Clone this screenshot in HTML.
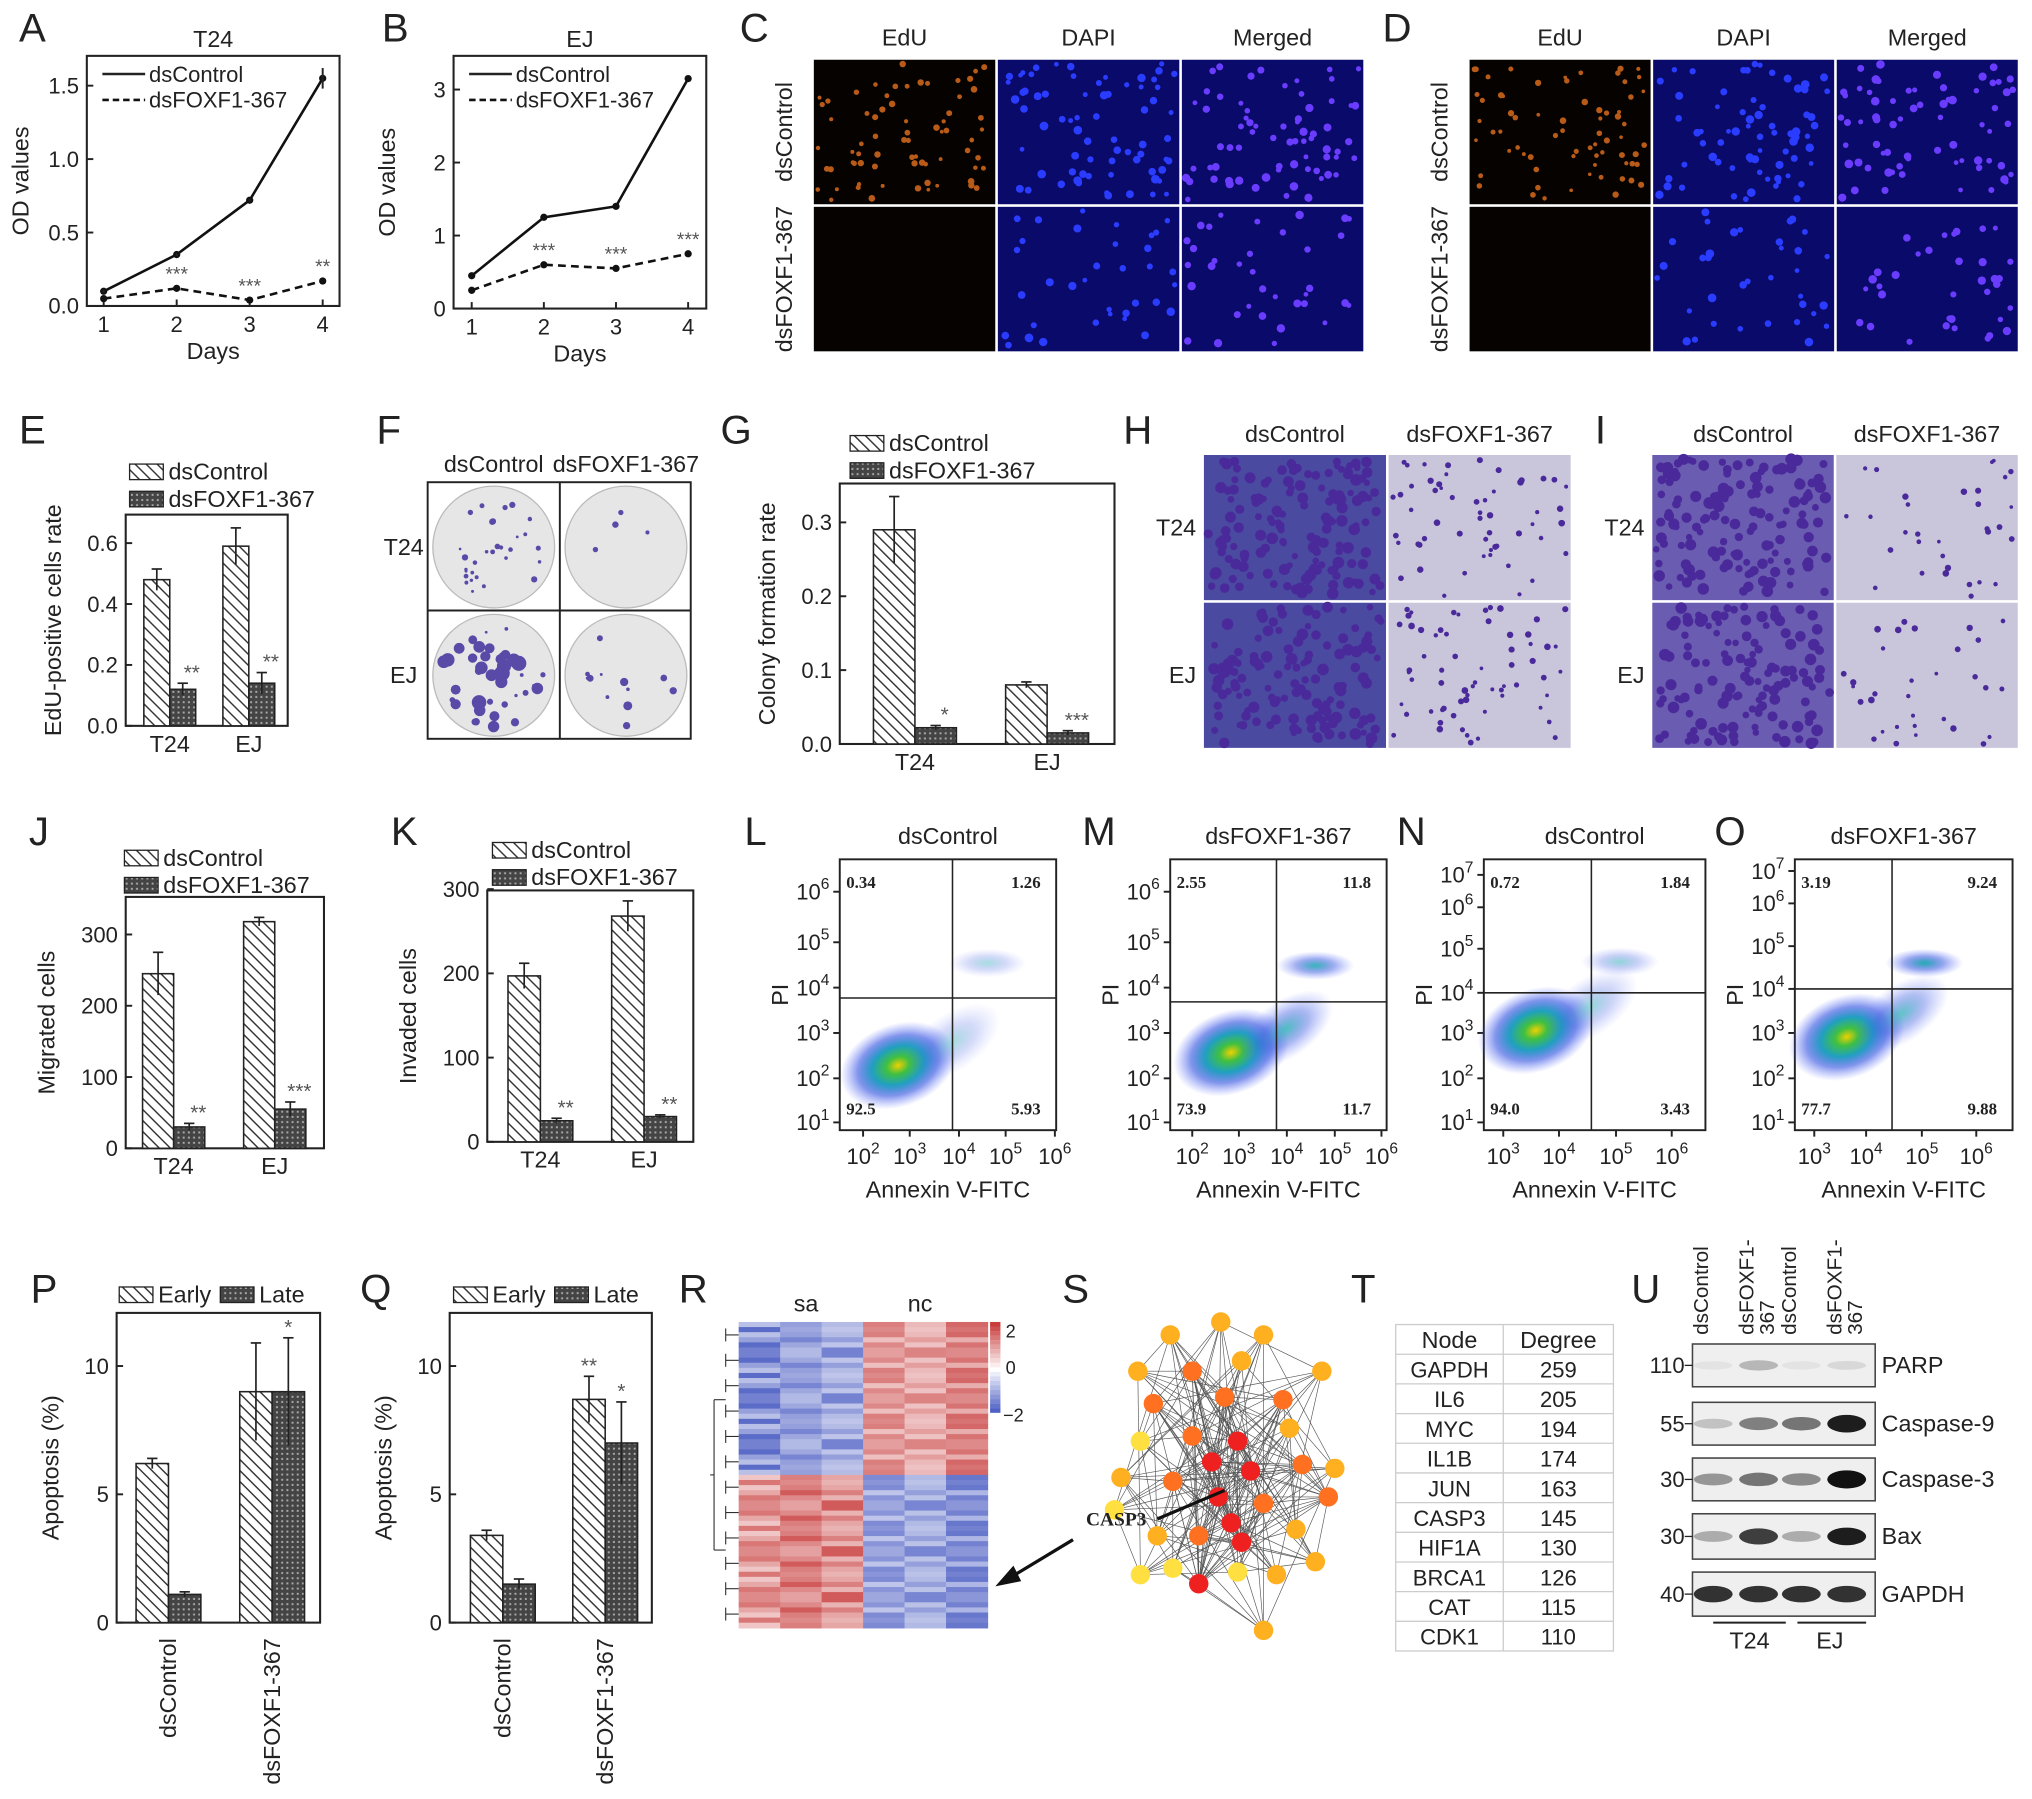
<!DOCTYPE html>
<html><head><meta charset="utf-8">
<style>
html,body{margin:0;padding:0;background:#fff;}
svg{display:block;font-family:"Liberation Sans",sans-serif;}
</style></head>
<body>
<svg id="fig" width="2032" height="1799" viewBox="0 0 1568 1388" xmlns="http://www.w3.org/2000/svg">
<defs>
<pattern id="hatch" patternUnits="userSpaceOnUse" width="6" height="6" patternTransform="rotate(-45)"><rect width="6" height="6" fill="#fff"/><line x1="0" y1="0" x2="0" y2="6" stroke="#333" stroke-width="2.2"/></pattern>
<pattern id="grid" patternUnits="userSpaceOnUse" width="4" height="4"><rect width="4" height="4" fill="#444"/><rect x="1" y="1" width="1.5" height="1.5" fill="#aaa"/></pattern>
<radialGradient id="dens"><stop offset="0" stop-color="#f0d000"/><stop offset="0.2" stop-color="#40c040"/><stop offset="0.45" stop-color="#20a0c0"/><stop offset="0.7" stop-color="#3050e0" stop-opacity="0.6"/><stop offset="1" stop-color="#6070ff" stop-opacity="0"/></radialGradient>
<radialGradient id="dens2"><stop offset="0" stop-color="#20b0b0"/><stop offset="0.5" stop-color="#3050e0" stop-opacity="0.5"/><stop offset="1" stop-color="#6070ff" stop-opacity="0"/></radialGradient>
</defs>
</svg>
<script>
// ---------- data ----------
const days=[1,2,3,4];
const aCtrl=[0.1,0.35,0.72,1.55], aFox=[0.05,0.12,0.04,0.17], aErr=[0.01,0.01,0.01,0.07];
const aStars=['','***','***','**'];
const bCtrl=[0.45,1.25,1.4,3.15], bFox=[0.25,0.6,0.55,0.75];
const bStars=['','***','***','***'];
const eVals=[[0.48,0.12],[0.59,0.14]], eErr=[[0.035,0.02],[0.06,0.035]], eStars=['**','**'];
const gVals=[[0.29,0.022],[0.08,0.015]], gErr=[[0.045,0.003],[0.004,0.003]], gStars=['*','***'];
const jVals=[[245,30],[318,55]], jErr=[[30,5],[6,10]], jStars=['**','***'];
const kVals=[[197,25],[268,30]], kErr=[[15,3],[18,2]], kStars=['**','**'];
const pVals=[[6.2,1.1],[9.0,9.0]], pErr=[[0.2,0.1],[1.9,2.1]], pStars=[['',''],['','*']];
const qVals=[[3.4,1.5],[8.7,7.0]], qErr=[[0.2,0.2],[0.9,1.6]], qStars=[['',''],['**','*']];
const tableNodes=['GAPDH','IL6','MYC','IL1B','JUN','CASP3','HIF1A','BRCA1','CAT','CDK1'];
const tableDeg=[259,205,194,174,163,145,130,126,115,110];
const blotNames=['PARP','Caspase-9','Caspase-3','Bax','GAPDH'];
const blotMW=['110','55','30','30','40'];
const blotInt=[[0.05,0.25,0.05,0.1],[0.2,0.5,0.55,0.95],[0.4,0.55,0.45,1.0],[0.3,0.8,0.3,0.95],[0.85,0.85,0.85,0.85]];
const heatTop=[-1.2,-1.0,-1.1,1.1,0.9,1.2], heatBot=[1.0,1.2,1.3,-1.1,-1.0,-1.2];
// ---------- helpers ----------
const svg=document.getElementById('fig');
const NS='http://www.w3.org/2000/svg';
function el(tag,attrs,name,parent){
  const e=document.createElementNS(NS,tag);
  for(const k in attrs) e.setAttribute(k,attrs[k]);
  
  
  (parent||svg).appendChild(e);return e;
}
function tx(x,y,s,size,name,opt){
  opt=opt||{};
  const a={x:x,y:y,'font-size':size,fill:opt.fill||'#222','text-anchor':opt.anchor||'middle'};
  if(opt.rot) a.transform='rotate('+opt.rot+' '+x+' '+y+')';
  if(opt.family) a['font-family']=opt.family;
  if(opt.weight) a['font-weight']=opt.weight;
  const t=el('text',a,name);t.textContent=s;return t;
}
function ln(x1,y1,x2,y2,name,w,c,dash){const a={x1:x1,y1:y1,x2:x2,y2:y2,stroke:c||'#222','stroke-width':w||1.5};if(dash)a['stroke-dasharray']=dash;return el('line',a,name);}
function rc(x,y,w,h,name,fill,stroke,sw){return el('rect',{x:x,y:y,width:w,height:h,fill:fill||'none',stroke:stroke||'none','stroke-width':sw||1.5},name);}
let seed=7;function rnd(){seed=(seed*16807)%2147483647;return seed/2147483647;}
[['A',25,32],['B',305,32],['C',582,32],['D',1078,32],['E',25,342],['F',300,342],['G',568,342],['H',878,342],['I',1235,342],['J',30,652],['K',312,652],['L',583,652],['M',848,652],['N',1089,652],['O',1335,652],['P',34,1005],['Q',290,1005],['R',535,1005],['S',830,1005],['T',1052,1005],['U',1270,1005]].forEach(p=>tx(p[1],p[2],p[0],31,'panel-label-'+p[0].toLowerCase()));
// ---------- line charts ----------
function lineChart(o){
  const sx=d=>o.x0+o.pad+(d-1)*(o.x1-o.x0-2*o.pad)/3;
  const sy=v=>o.y1-(v/o.ymax)*(o.y1-o.ytop);
  rc(o.x0,o.y0,o.x1-o.x0,o.y1-o.y0,o.id+'-axes-box',null,'#222',1.6);
  tx((o.x0+o.x1)/2,o.y0-7,o.title,18,o.id+'-title');
  o.ticks.forEach(t=>{ln(o.x0,sy(t),o.x0+5,sy(t),o.id+'-y-tick');tx(o.x0-6,sy(t)+6,o.tickFmt(t),17,o.id+'-y-tick-label',{anchor:'end'});});
  days.forEach(d=>{ln(sx(d),o.y1,sx(d),o.y1-5,o.id+'-x-tick');tx(sx(d),o.y1+20,String(d),17,o.id+'-x-tick-label');});
  tx((o.x0+o.x1)/2,o.y1+41,'Days',18,o.id+'-x-axis-title');
  tx(o.x0-45,(o.y0+o.y1)/2,'OD values',18,o.id+'-y-axis-title',{rot:-90});
  const p1=days.map((d,i)=>sx(d)+','+sy(o.c[i])).join(' ');
  const p2=days.map((d,i)=>sx(d)+','+sy(o.f[i])).join(' ');
  el('polyline',{points:p1,fill:'none',stroke:'#111','stroke-width':2},o.id+'-line-dscontrol');
  el('polyline',{points:p2,fill:'none',stroke:'#111','stroke-width':2,'stroke-dasharray':'6,4'},o.id+'-line-dsfoxf1');
  days.forEach((d,i)=>{
    el('circle',{cx:sx(d),cy:sy(o.c[i]),r:2.8,fill:'#111'},o.id+'-point-dscontrol');
    el('circle',{cx:sx(d),cy:sy(o.f[i]),r:2.8,fill:'#111'},o.id+'-point-dsfoxf1');
    if(o.err){ln(sx(d),sy(o.c[i]-o.err[i]),sx(d),sy(o.c[i]+o.err[i]),o.id+'-error-bar');}
    if(o.stars[i]) tx(sx(d),sy(o.f[i])-6,o.stars[i],15,o.id+'-significance',{fill:'#555'});
  });
  ln(o.x0+12,o.y0+14,o.x0+45,o.y0+14,o.id+'-legend-line-dscontrol',2);
  ln(o.x0+12,o.y0+34,o.x0+45,o.y0+34,o.id+'-legend-line-dsfoxf1',2,'#111','5,3');
  tx(o.x0+48,o.y0+20,'dsControl',17,o.id+'-legend-dscontrol',{anchor:'start'});
  tx(o.x0+48,o.y0+40,'dsFOXF1-367',17,o.id+'-legend-dsfoxf1',{anchor:'start'});
}
lineChart({id:'a',x0:67,x1:262,y0:43,y1:236,ytop:66,ymax:1.5,pad:13,ticks:[0,0.5,1.0,1.5],tickFmt:t=>t.toFixed(1),title:'T24',c:aCtrl,f:aFox,err:aErr,stars:aStars});
lineChart({id:'b',x0:350,x1:545,y0:43,y1:238,ytop:69,ymax:3,pad:14,ticks:[0,1,2,3],tickFmt:t=>String(t),title:'EJ',c:bCtrl,f:bFox,err:null,stars:bStars});
// ---------- microscopy images ----------
function cells(x,y,w,h,n,color,r,name){
  const g=el('g',{},name);
  for(let i=0;i<n;i++){el('circle',{cx:x+3+rnd()*(w-6),cy:y+3+rnd()*(h-6),r:r*(0.7+rnd()*0.6),fill:color},name+'-cell',g);}
}
function edu(o){
  const cols=[o.x0,o.x0+(o.x1-o.x0)/3,o.x0+2*(o.x1-o.x0)/3,o.x1];
  const ym=(o.y0+o.y1)/2;
  ['EdU','DAPI','Merged'].forEach((s,i)=>tx((cols[i]+cols[i+1])/2,o.y0-10,s,18,o.id+'-header-'+s.toLowerCase()));
  tx(o.x0-16,(o.y0+ym)/2,'dsControl',18,o.id+'-row-label-dscontrol',{rot:-90});
  tx(o.x0-16,(ym+o.y1)/2,'dsFOXF1-367',18,o.id+'-row-label-dsfoxf1',{rot:-90});
  for(let r=0;r<2;r++)for(let c=0;c<3;c++){
    const x=cols[c]+1,y=(r?ym:o.y0)+1,w=cols[c+1]-cols[c]-2,h=(r?o.y1-ym:ym-o.y0)-2;
    rc(x,y,w,h,o.id+'-image',c==0?'#050200':'#0a0a6a');
    const n=r==0?70:35;
    if(c==0){if(r==0)cells(x,y,w,h,n,'#b85a18',2,o.id+'-edu-cells');}
    else cells(x,y,w,h,n,c==1?'#2a3cff':'#6a3cff',2.6,o.id+'-nuclei');
  }
}
edu({id:'c',x0:627,x1:1053,y0:45,y1:272});
edu({id:'d',x0:1133,x1:1558,y0:45,y1:272});
function transwell(o){
  const xm=(o.x0+o.x1)/2,ym=(o.y0+o.y1)/2;
  tx((o.x0+xm)/2,o.y0-9,'dsControl',18,o.id+'-header-dscontrol');
  tx((xm+o.x1)/2,o.y0-9,'dsFOXF1-367',18,o.id+'-header-dsfoxf1');
  tx(o.x0-5,(o.y0+ym)/2+6,'T24',18,o.id+'-row-label-t24',{anchor:'end'});
  tx(o.x0-5,(ym+o.y1)/2+6,'EJ',18,o.id+'-row-label-ej',{anchor:'end'});
  const dens=o.d;
  for(let r=0;r<2;r++)for(let c=0;c<2;c++){
    const x=(c?xm:o.x0)+1,y=(r?ym:o.y0)+1,w=(o.x1-o.x0)/2-2,h=(o.y1-o.y0)/2-2;
    const dd=dens[r*2+c];
    rc(x,y,w,h,o.id+'-image',dd>0.5?o.dark:'#c9c6dc');
    cells(x,y,w,h,Math.round(dd*160),'#4a2a9a',dd>0.5?3.5:2,o.id+'-stained-cells');
  }
}
transwell({id:'h',x0:928,x1:1213,y0:350,y1:578,d:[0.9,0.35,0.8,0.4],dark:'#4a4aa0'});
transwell({id:'i',x0:1274,x1:1558,y0:350,y1:578,d:[0.85,0.2,0.8,0.2],dark:'#6a5cb0'});
(function(){
  rc(330,372,203,198,'f-frame',null,'#222',1.5);ln(432,372,432,570,'f-divider');ln(330,471,533,471,'f-divider');
  tx(381,364,'dsControl',18,'f-header-dscontrol');tx(483,364,'dsFOXF1-367',18,'f-header-dsfoxf1');
  tx(327,428,'T24',18,'f-row-label-t24',{anchor:'end'});tx(322,527,'EJ',18,'f-row-label-ej',{anchor:'end'});
  [[381,422,30,1.5],[483,422,4,1.5],[381,521,40,5],[483,521,12,3]].forEach(p=>{
    el('circle',{cx:p[0],cy:p[1],r:47,fill:'#e6e6e6',stroke:'#bbb'},'f-plate');
    for(let i=0;i<p[2];i++){const a=rnd()*6.28,rr=Math.sqrt(rnd())*40;el('circle',{cx:p[0]+rr*Math.cos(a),cy:p[1]+rr*Math.sin(a),r:1+rnd()*p[3],fill:'#5a4aa8'},'f-colony');}
  });
})();
// ---------- bar charts ----------
function barChart(o){
  const sy=v=>o.y1-(v/o.ymax)*(o.y1-o.ytop);
  rc(o.x0,o.y0,o.x1-o.x0,o.y1-o.y0,o.id+'-axes-box',null,'#222',1.6);
  o.ticks.forEach(t=>{ln(o.x0,sy(t),o.x0+5,sy(t),o.id+'-y-tick');tx(o.x0-6,sy(t)+6,o.fmt(t),17,o.id+'-y-tick-label',{anchor:'end'});});
  tx(o.x0-o.ylOff,(o.y0+o.y1)/2,o.ylabel,18,o.id+'-y-axis-title',{rot:-90});
  o.vals.forEach((grp,gi)=>{
    const gc=o.gx[gi];
    grp.forEach((v,bi)=>{
      const cx=gc+(bi-0.5)*o.bw;
      rc(cx-o.bw/2,sy(v),o.bw,o.y1-sy(v),o.id+'-bar-'+o.cats[gi].toLowerCase()+'-'+(bi?'dsfoxf1':'dscontrol'),bi?'url(#grid)':'url(#hatch)','#222',1.2);
      const e=o.err[gi][bi];ln(cx,sy(v-e),cx,sy(v+e),o.id+'-error-bar',1.3);ln(cx-4,sy(v+e),cx+4,sy(v+e),o.id+'-error-cap',1.3);
      const st=o.stars2?o.stars2[gi][bi]:(bi?o.stars[gi]:'');
      if(st) tx(cx+(o.stars2?0:7),sy(v+e)-3,st,16,o.id+'-significance',{fill:'#555'});
    });
    if(o.rotCats) tx(gc+6,o.y1+12,o.cats[gi],18,o.id+'-x-tick-label',{rot:-90,anchor:'end'});
    else tx(gc,o.y1+20,o.cats[gi],18,o.id+'-x-tick-label');
  });
  const L=o.leg;
  rc(L[0],L[1]-12,26,12,o.id+'-legend-swatch-dscontrol','url(#hatch)','#222',1);
  tx(L[0]+30,L[1],o.l1,18,o.id+'-legend-dscontrol',{anchor:'start'});
  if(o.inline){rc(L[0]+78,L[1]-12,26,12,o.id+'-legend-swatch-late','url(#grid)','#222',1);tx(L[0]+108,L[1],o.l2,18,o.id+'-legend-late',{anchor:'start'});}
  else{rc(L[0],L[1]+9,26,12,o.id+'-legend-swatch-dsfoxf1','url(#grid)','#222',1);tx(L[0]+30,L[1]+21,o.l2,18,o.id+'-legend-dsfoxf1',{anchor:'start'});}
}
const cats2=['T24','EJ'];
barChart({id:'e',x0:97,x1:222,y0:397,y1:560,ytop:419,ymax:0.6,ticks:[0,0.2,0.4,0.6],fmt:t=>t.toFixed(1),ylabel:'EdU-positive cells rate',ylOff:50,vals:eVals,err:eErr,stars:eStars,gx:[131,192],bw:20,cats:cats2,leg:[100,370],l1:'dsControl',l2:'dsFOXF1-367'});
barChart({id:'g',x0:648,x1:860,y0:373,y1:574,ytop:403,ymax:0.3,ticks:[0,0.1,0.2,0.3],fmt:t=>t.toFixed(1),ylabel:'Colony formation rate',ylOff:50,vals:gVals,err:gErr,stars:gStars,gx:[706,808],bw:32,cats:cats2,leg:[656,348],l1:'dsControl',l2:'dsFOXF1-367'});
barChart({id:'j',x0:97,x1:250,y0:692,y1:886,ytop:721,ymax:300,ticks:[0,100,200,300],fmt:t=>String(t),ylabel:'Migrated cells',ylOff:55,vals:jVals,err:jErr,stars:jStars,gx:[134,212],bw:24,cats:cats2,leg:[96,668],l1:'dsControl',l2:'dsFOXF1-367'});
barChart({id:'k',x0:376,x1:535,y0:687,y1:881,ytop:686,ymax:300,ticks:[0,100,200,300],fmt:t=>String(t),ylabel:'Invaded cells',ylOff:55,vals:kVals,err:kErr,stars:kStars,gx:[417,497],bw:25,cats:cats2,leg:[380,662],l1:'dsControl',l2:'dsFOXF1-367'});
const catsP=['dsControl','dsFOXF1-367'];
barChart({id:'p',x0:90,x1:247,y0:1013,y1:1252,ytop:1054,ymax:10,ticks:[0,5,10],fmt:t=>String(t),ylabel:'Apoptosis (%)',ylOff:45,vals:pVals,err:pErr,stars2:pStars,gx:[130,210],bw:25,cats:catsP,rotCats:true,inline:true,leg:[92,1005],l1:'Early',l2:'Late'});
barChart({id:'q',x0:347,x1:503,y0:1013,y1:1252,ytop:1054,ymax:10,ticks:[0,5,10],fmt:t=>String(t),ylabel:'Apoptosis (%)',ylOff:45,vals:qVals,err:qErr,stars2:qStars,gx:[388,467],bw:25,cats:catsP,rotCats:true,inline:true,leg:[350,1005],l1:'Early',l2:'Late'});
// ---------- flow cytometry ----------
function flow(o){
  rc(o.x0,o.y0,o.x1-o.x0,o.y1-o.y0,o.id+'-axes-box',null,'#222',1.5);
  tx((o.x0+o.x1)/2,o.y0-12,o.title,18,o.id+'-title');
  o.yt.forEach((y,i)=>{ln(o.x0-5,y,o.x0,y,o.id+'-y-tick');const t=tx(o.x0-8,y+6,'10',17,o.id+'-y-tick-label',{anchor:'end'});const s=document.createElementNS(NS,'tspan');s.setAttribute('dy','-8');s.setAttribute('font-size','12');s.textContent=String(o.y0e+i);t.appendChild(s);});
  o.xt.forEach((x,i)=>{ln(x,o.y1,x,o.y1+5,o.id+'-x-tick');const t=tx(x,o.y1+26,'10',17,o.id+'-x-tick-label');const s=document.createElementNS(NS,'tspan');s.setAttribute('dy','-8');s.setAttribute('font-size','12');s.textContent=String(o.x0e+i);t.appendChild(s);});
  tx((o.x0+o.x1)/2,o.y1+52,'Annexin V-FITC',18,o.id+'-x-axis-title');
  tx(o.x0-40,(o.y0+o.y1)/2,'PI',18,o.id+'-y-axis-title',{rot:-90});
  el('ellipse',{cx:o.cx,cy:o.cy,rx:46,ry:32,fill:'url(#dens)',transform:'rotate(-20 '+o.cx+' '+o.cy+')'},o.id+'-density-main');
  el('ellipse',{cx:o.cx+42,cy:o.cy-18,rx:42,ry:22,fill:'url(#dens2)',opacity:o.spread*0.8,transform:'rotate(-35 '+(o.cx+42)+' '+(o.cy-18)+')'},o.id+'-density-tail');
  el('ellipse',{cx:o.lx,cy:o.ly,rx:30,ry:11,fill:'url(#dens2)',opacity:o.late},o.id+'-density-late');
  ln(o.qx,o.y0,o.qx,o.y1,o.id+'-quadrant-v',1.2);ln(o.x0,o.qy,o.x1,o.qy,o.id+'-quadrant-h',1.2);
  const f='"Liberation Serif",serif';
  tx(o.x0+5,o.y0+22,o.q[0],13,o.id+'-q-ul',{anchor:'start',family:f,weight:'bold'});
  tx(o.x1-12,o.y0+22,o.q[1],13,o.id+'-q-ur',{anchor:'end',family:f,weight:'bold'});
  tx(o.x0+5,o.y1-12,o.q[2],13,o.id+'-q-ll',{anchor:'start',family:f,weight:'bold'});
  tx(o.x1-12,o.y1-12,o.q[3],13,o.id+'-q-lr',{anchor:'end',family:f,weight:'bold'});
}
flow({id:'l',title:'dsControl',x0:648,x1:815,y0:663,y1:872,yt:[866,832,797,762,727,688],y0e:1,xt:[666,702,740,776,814],x0e:2,qx:735,qy:770,cx:693,cy:822,spread:0.5,lx:762,ly:743,late:0.4,q:['0.34','1.26','92.5','5.93']});
flow({id:'m',title:'dsFOXF1-367',x0:903,x1:1070,y0:663,y1:872,yt:[866,832,797,762,727,688],y0e:1,xt:[920,956,993,1030,1066],x0e:2,qx:985,qy:773,cx:950,cy:812,spread:1,lx:1015,ly:745,late:0.9,q:['2.55','11.8','73.9','11.7']});
flow({id:'n',title:'dsControl',x0:1145,x1:1316,y0:663,y1:872,yt:[866,832,797,766,732,700,675],y0e:1,xt:[1160,1203,1247,1290],x0e:3,qx:1228,qy:766,cx:1185,cy:795,spread:0.6,lx:1250,ly:742,late:0.5,q:['0.72','1.84','94.0','3.43']});
flow({id:'o',title:'dsFOXF1-367',x0:1385,x1:1553,y0:663,y1:872,yt:[866,832,797,763,730,697,672],y0e:1,xt:[1400,1440,1483,1525],x0e:3,qx:1460,qy:763,cx:1425,cy:800,spread:0.9,lx:1485,ly:743,late:1,q:['3.19','9.24','77.7','9.88']});
// ---------- heatmap R ----------
(function(){
  const x0=570,x1=762,y0=1020,ym=1138,cw=(x1-x0)/6,nr=30,rh=(ym-y0)/nr;
  function col(v){const t=Math.max(-1,Math.min(1,v/2));if(t>=0){const k=t;return 'rgb('+Math.round(255-(255-200)*k)+','+Math.round(255-(255-60)*k)+','+Math.round(255-(255-60)*k)+')';}const k=-t;return 'rgb('+Math.round(255-(255-60)*k)+','+Math.round(255-(255-80)*k)+','+Math.round(255-(255-190)*k)+')';}
  tx(622,1012,'sa',18,'r-label-sa');tx(710,1012,'nc',18,'r-label-nc');
  [[heatTop,y0],[heatBot,ym]].forEach(p=>{
    for(let r=0;r<nr;r++)for(let c=0;c<6;c++){
      const v=p[0][c]*(0.6+0.8*((r*7+c*5+r*r)%9)/8);
      rc(x0+c*cw,p[1]+r*rh,cw+0.5,rh+0.5,'r-heatmap-cell',col(v));
    }
  });
  for(let i=0;i<12;i++){const y=y0+i*((1255-y0)/12)+10;ln(560,y,570,y,'r-dendrogram',0.8);ln(560,y-5,560,y+5,'r-dendrogram',0.8);}
  ln(551,1080,560,1080,'r-dendrogram',0.8);ln(551,1196,560,1196,'r-dendrogram',0.8);ln(551,1080,551,1196,'r-dendrogram',0.8);ln(548,1138,551,1138,'r-dendrogram',0.8);
  for(let i=0;i<20;i++) rc(764,1020+i*3.5,8,3.6,'r-colorbar-step',col(2-i*0.2));
  tx(776,1032,'2',14,'r-colorbar-label',{anchor:'start'});tx(776,1060,'0',14,'r-colorbar-label',{anchor:'start'});tx(774,1097,'−2',14,'r-colorbar-label',{anchor:'start'});
  ln(828,1188,775,1220,'r-arrow',2.5,'#111');el('polygon',{points:'768,1224 782,1208 788,1220',fill:'#111'},'r-arrow-head');
})();
// ---------- network S ----------
const netNodes=[[942,1020,1],[903,1030,1],[975,1030,1],[878,1058,1],[1020,1058,1],[920,1058,2],[958,1050,1],[945,1078,2],[890,1083,2],[990,1080,2],[865,1140,1],[860,1165,0],[880,1112,0],[995,1102,1],[1030,1133,1],[1025,1155,2],[920,1108,2],[955,1112,3],[935,1128,3],[965,1135,3],[940,1155,3],[975,1160,2],[905,1143,2],[1000,1180,1],[893,1185,1],[880,1215,0],[925,1222,3],[955,1213,0],[985,1215,1],[1015,1205,1],[975,1258,1],[925,1185,2],[958,1190,3],[1005,1130,2],[905,1210,0],[950,1175,3]];
(function(){
  const cols=['#ffe040','#ffb020','#ff7020','#ee2020'];
  for(let i=0;i<netNodes.length;i++)for(let j=i+1;j<netNodes.length;j++){
    if((i*7+j*3)%4===0||netNodes[i][2]+netNodes[j][2]>=5){const a=netNodes[i],b=netNodes[j];ln(a[0],a[1],b[0],b[1],'s-edge',0.5,'#555');}
  }
  netNodes.forEach(n=>el('circle',{cx:n[0],cy:n[1],r:7.5,fill:cols[n[2]]},'s-node'));
  tx(838,1177,'CASP3',15,'s-label-casp3',{anchor:'start',family:'"Liberation Serif",serif',weight:'bold'});
  ln(893,1172,945,1150,'s-arrow',2.5,'#111');
})();
// ---------- table T ----------
(function(){
  const x0=1077,x1=1245,xm=1160,y0=1022,rh=22.9;
  rc(x0,y0,x1-x0,rh*11,'t-table-border',null,'#ccc',1);
  ln(xm,y0,xm,y0+rh*11,'t-col-divider',1,'#ccc');
  tx((x0+xm)/2,y0+18,'Node',18,'t-header-node');tx((xm+x1)/2,y0+18,'Degree',18,'t-header-degree');
  tableNodes.forEach((n,i)=>{const y=y0+rh*(i+1);ln(x0,y,x1,y,'t-row-divider',1,'#ccc');tx((x0+xm)/2,y+18,n,17,'t-node-'+n.toLowerCase());tx((xm+x1)/2,y+18,String(tableDeg[i]),17,'t-degree-'+n.toLowerCase());});
})();
// ---------- western blot U ----------
(function(){
  const lanes=[1322,1357,1390,1425],rows=[[1037,1070],[1082,1115],[1125,1158],[1168,1203],[1213,1247]];
  [['dsControl',''],['dsFOXF1-','367'],['dsControl',''],['dsFOXF1-','367']].forEach((l,i)=>{tx(lanes[i]-4,1030,l[0],16,'u-lane-label',{rot:-90,anchor:'start'});if(l[1])tx(lanes[i]+12,1030,l[1],16,'u-lane-label',{rot:-90,anchor:'start'});});
  rows.forEach((r,ri)=>{
    rc(1306,r[0],141,r[1]-r[0],'u-blot-'+blotNames[ri].toLowerCase(),'#efefef','#444',1.2);
    tx(1300,(r[0]+r[1])/2+6,blotMW[ri],17,'u-mw-label',{anchor:'end'});ln(1300,(r[0]+r[1])/2,1306,(r[0]+r[1])/2,'u-mw-tick',1);
    tx(1452,(r[0]+r[1])/2+6,blotNames[ri],18,'u-protein-label',{anchor:'start'});
    blotInt[ri].forEach((v,li)=>el('ellipse',{cx:lanes[li],cy:(r[0]+r[1])/2,rx:15,ry:3+v*4,fill:'#111',opacity:v},'u-band'));
  });
  ln(1322,1252,1378,1252,'u-group-line-t24');ln(1387,1252,1440,1252,'u-group-line-ej');
  tx(1350,1272,'T24',18,'u-group-t24');tx(1412,1272,'EJ',18,'u-group-ej');
})();
</script>
</body></html>
